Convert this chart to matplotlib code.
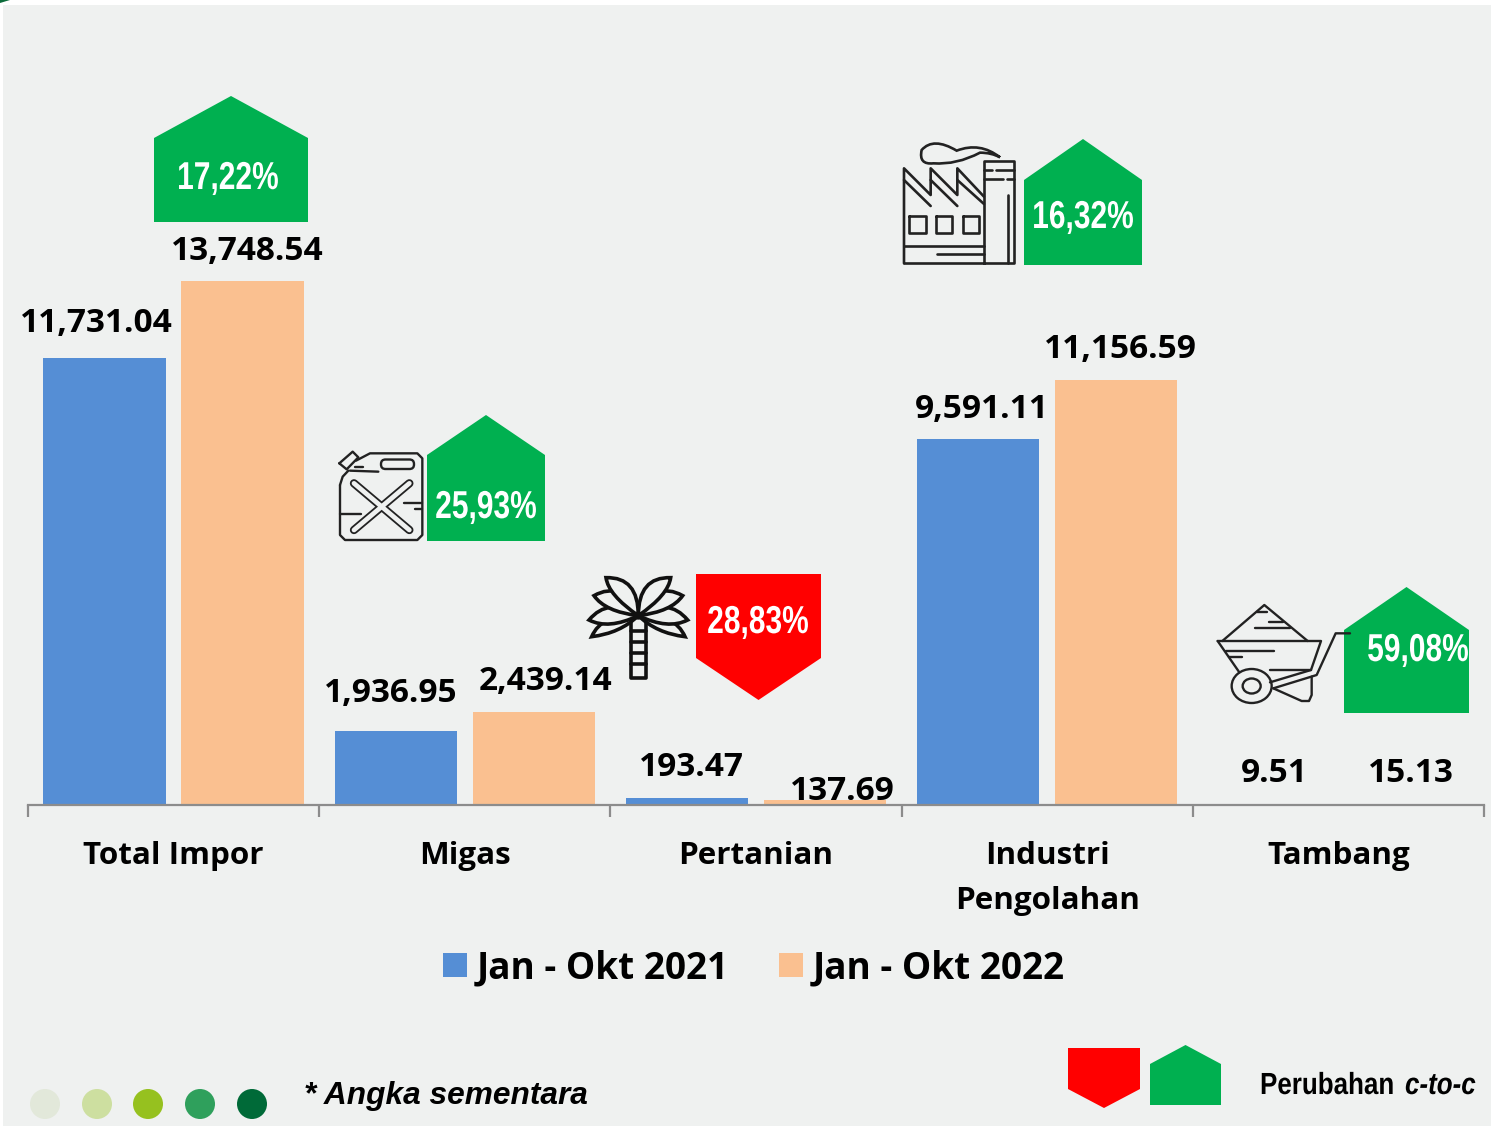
import matplotlib
matplotlib.use('Agg')
import matplotlib.pyplot as plt
from matplotlib.patches import Polygon, Rectangle, Ellipse, PathPatch, FancyBboxPatch
from matplotlib.path import Path
from matplotlib.patheffects import AbstractPathEffect
from matplotlib.transforms import Affine2D

# data
categories = ['Total Impor', 'Migas', 'Pertanian', 'Industri\nPengolahan', 'Tambang']
series_2021 = [11731.04, 1936.95, 193.47, 9591.11, 9.51]
series_2022 = [13748.54, 2439.14, 137.69, 11156.59, 15.13]
legend_labels = ['Jan - Okt 2021', 'Jan - Okt 2022']
changes = ['17,22%', '25,93%', '28,83%', '16,32%', '59,08%']

BLUE = '#558ED5'
ORANGE = '#FAC090'
GREEN = '#00B050'
RED = '#FF0000'
BG = '#EFF1F0'
INK = 'black'
W, H = 1491, 1126


class Squeeze(AbstractPathEffect):
    # no narrow font installed: squeeze the glyphs sideways around x pixel
    def __init__(self, sx, x):
        super().__init__()
        self.sx, self.x = sx, x

    def draw_path(self, renderer, gc, tpath, affine, rgbFace=None):
        t = affine + Affine2D().translate(-self.x, 0).scale(self.sx, 1).translate(self.x, 0)
        renderer.draw_path(gc, tpath, t, rgbFace)


fig = plt.figure(figsize=(W / 100, H / 100), dpi=100, facecolor='white')
fig.add_artist(Rectangle((3 / W, 0), (W - 3) / W, (H - 5) / H, transform=fig.transFigure,
                         facecolor=BG, edgecolor='none', zorder=-5))

# chart area: baseline at y=805, x from 28 to 1484
ax = fig.add_axes([28 / W, (H - 805) / H, 1456 / W, 805 / H])
ax.patch.set_alpha(0)
ax.set_xlim(-0.5, 4.5)
ax.set_ylim(0, 805 / (524 / 13748.54))
pos = list(range(len(categories)))
bar_w = 122.5 / 291.2
off = 69 / 291.2
ax.bar([p - off for p in pos], series_2021, bar_w, color=BLUE, label=legend_labels[0])
ax.bar([p + off for p in pos], series_2022, bar_w, color=ORANGE, label=legend_labels[1])
for s in ['top', 'left', 'right']:
    ax.spines[s].set_visible(False)
ax.spines['bottom'].set_color('#8C8C8C')
ax.spines['bottom'].set_linewidth(1.6)
ax.set_yticks([])
ax.set_xticks(pos)
ax.set_xticklabels(categories, fontfamily='Open Sans', fontweight='bold', fontsize=22.6, color=INK,
                   linespacing=1.66)
ax.set_xticks([p - 0.5 for p in pos] + [4.5], minor=True)
ax.tick_params(axis='x', which='major', length=0, pad=26)
ax.tick_params(axis='x', which='minor', length=8.5, width=1.6, color='#8C8C8C')

fig.legend(*ax.get_legend_handles_labels(), loc='center', ncol=2,
           bbox_to_anchor=(754 / W, 1 - 968 / H), frameon=False,
           prop={'family': 'Open Sans', 'weight': 'bold', 'size': 26.6},
           labelcolor=INK, handlelength=0.65, handleheight=0.65, handletextpad=0.27,
           columnspacing=1.36, borderpad=0, borderaxespad=0)

# overlay in image pixels for the labels and pictograms
px = fig.add_axes([0, 0, 1, 1], zorder=5)
px.set_xlim(0, W)
px.set_ylim(H, 0)
px.axis('off')
px.add_patch(Polygon([(0, 0), (10, 0), (0, 3)], closed=True, facecolor='#0B6B3A', edgecolor='none'))

# value labels
label_x = [96, 247, 391, 546, 691, 842, 982, 1120, 1274, 1411]
label_y = [324, 251, 693, 682, 768, 791, 409, 349, 774, 774]
label_vals = [v for pair in zip(series_2021, series_2022) for v in pair]
for x, y, v in zip(label_x, label_y, label_vals):
    px.text(x, y, f'{v:,.2f}', ha='center', va='center', family='Open Sans',
            weight='bold', fontsize=24, color=INK)


def house(x0, x1, yb, ys, yt, color):
    px.add_patch(Polygon([(x0, yb), (x0, ys), ((x0 + x1) / 2, yt), (x1, ys), (x1, yb)],
                         closed=True, facecolor=color, edgecolor='none'))


house(154, 308, 222, 138, 96, GREEN)
house(427, 545, 541, 455, 415, GREEN)
house(696, 821, 574, 658, 700, RED)
house(1024, 1142, 265, 180, 139, GREEN)
house(1344, 1469, 713, 630, 587, GREEN)
house(1068, 1140, 1048, 1089, 1108, RED)
house(1150, 1221, 1105, 1064, 1045, GREEN)

change_pos = [(228, 179), (486, 508), (758, 623), (1083, 218), (1418, 651)]
for (x, y), t in zip(change_pos, changes):
    px.text(x, y, t, ha='center', va='center', family='Liberation Sans', weight='bold',
            fontsize=28, color='white', path_effects=[Squeeze(0.77, x)])


def lines(ox, oy, segs, lw=1.7, color='#222222'):
    # coordinates are read at 3x from the crop that starts at ox, oy
    for seg in segs:
        px.plot([ox + a / 3 for a, b in seg], [oy + b / 3 for a, b in seg], color=color,
                lw=lw, solid_capstyle='round', solid_joinstyle='round')


def curve(ox, oy, pts, lw=1.7, face='none', edge='#222222'):
    # pts: start, then pairs of control point and end point
    verts = [(ox + a / 3, oy + b / 3) for a, b in pts]
    codes = [Path.MOVETO] + [Path.CURVE3] * (len(verts) - 1)
    px.add_patch(PathPatch(Path(verts, codes), facecolor=face, edgecolor=edge, lw=lw))


# factory
fx, fy = 890, 130
lines(fx, fy, [
    [(42, 400), (42, 115), (122, 195), (122, 115), (202, 195), (202, 115), (282, 200)],
    [(42, 150), (122, 228)], [(122, 150), (202, 228)], [(202, 150), (282, 222)],
    [(283, 400), (283, 92), (372, 92), (372, 400), (42, 400)],
    [(283, 120), (305, 120)], [(318, 120), (372, 120)],
    [(283, 148), (340, 148)], [(352, 148), (372, 148)],
    [(355, 195), (355, 400)],
    [(42, 348), (282, 348)], [(142, 372), (282, 372)],
    [(58, 258), (108, 258), (108, 310), (58, 310), (58, 258)],
    [(138, 258), (187, 258), (187, 310), (138, 310), (138, 258)],
    [(218, 258), (267, 258), (267, 310), (218, 310), (218, 258)],
], lw=1.9)
curve(fx, fy, [(330, 82), (270, 35), (200, 62), (130, 20), (95, 60), (85, 105), (130, 100),
               (200, 105), (270, 68), (305, 68), (330, 82)], lw=1.9)

# jerrycan
cx, cy = 330, 440
lines(cx, cy, [
    [(30, 135), (30, 285), (45, 300), (262, 300), (277, 285), (277, 55), (262, 40), (120, 40), (78, 62)],
    [(30, 135), (38, 110), (55, 92)],
    [(28, 70), (68, 35), (85, 52), (50, 88), (28, 70)],
    [(60, 92), (145, 95)], [(75, 80), (100, 80)],
    [(222, 188), (277, 188)], [(255, 207), (277, 207)], [(30, 222), (92, 222)],
])
lines(cx, cy, [[(72, 130), (238, 270)], [(238, 130), (72, 270)]], lw=6, color='#222222')
lines(cx, cy, [[(72, 130), (238, 270)], [(238, 130), (72, 270)]], lw=3.4, color=BG)
px.add_patch(FancyBboxPatch((cx + 51, cy + 19.5), 33, 9.5, boxstyle='round,pad=0,rounding_size=4.5',
                            facecolor='none', edgecolor='#222222', lw=1.7))

# palm, drawn from the lowest frond up so each one hides the lines under it
ox, oy = 580, 565
base = (175, 152)
fronds = [((35, 215), (65, 145), (120, 205)), ((27, 165), (85, 95), (85, 195)),
          ((42, 92), (125, 45), (75, 140)), ((78, 38), (175, 35), (85, 90))]
lines(ox, oy, [
    [(153, 175), (153, 338), (197, 338), (197, 175)],
    [(153, 198), (197, 198)], [(153, 232), (197, 232)], [(153, 265), (197, 265)], [(153, 298), (197, 298)],
], lw=2.6, color='#111111')
for tip, c1, c2 in fronds:
    curve(ox, oy, [base, c1, tip, c2, base], lw=2.6, edge='#111111', face=BG)
    curve(ox, oy, [base, (350 - c1[0], c1[1]), (350 - tip[0], tip[1]), (350 - c2[0], c2[1]), base],
          lw=2.6, edge='#111111', face=BG)
px.add_patch(Ellipse((ox + 175 / 3, oy + 152 / 3), 9, 8, facecolor='#111111', edgecolor='none'))

# wheelbarrow
wx, wy = 1205, 595
lines(wx, wy, [
    [(52, 138), (178, 30), (308, 138)],
    [(38, 138), (348, 138), (318, 225), (195, 262)],
    [(38, 138), (103, 232)],
    [(435, 115), (392, 115), (335, 240), (205, 280)],
    [(205, 280), (290, 318), (312, 318), (320, 300), (320, 245)],
    [(155, 50), (185, 50)], [(192, 80), (235, 80)], [(150, 100), (255, 100)],
    [(62, 168), (208, 168)], [(72, 185), (110, 185)], [(195, 225), (318, 225)],
])
px.add_patch(Ellipse((wx + 140 / 3, wy + 273 / 3), 40, 34, facecolor='none', edgecolor='#222222', lw=1.7))
px.add_patch(Ellipse((wx + 140 / 3, wy + 273 / 3), 18, 15, facecolor='none', edgecolor='#222222', lw=1.7))

# footer
dot_x = [45, 97, 148, 200, 252]
dot_c = ['#E2E8DA', '#CDDFA0', '#96C11F', '#2FA05C', '#006A38']
for x, c in zip(dot_x, dot_c):
    px.add_patch(Ellipse((x, 1104), 30, 30, facecolor=c, edgecolor='none'))
px.text(304, 1096, '* Angka sementara', ha='left', va='center', family='Liberation Sans',
        weight='bold', style='italic', fontsize=22.8, color='black')
px.text(1394, 1086, 'Perubahan', ha='right', va='center', family='Liberation Sans', weight='bold',
        fontsize=22, color='black', path_effects=[Squeeze(0.85, 1394)])
px.text(1405, 1086, 'c-to-c', ha='left', va='center', family='Liberation Sans', weight='bold',
        style='italic', fontsize=22, color='black', path_effects=[Squeeze(0.85, 1405)])

fig.savefig('out.png', dpi=100)
